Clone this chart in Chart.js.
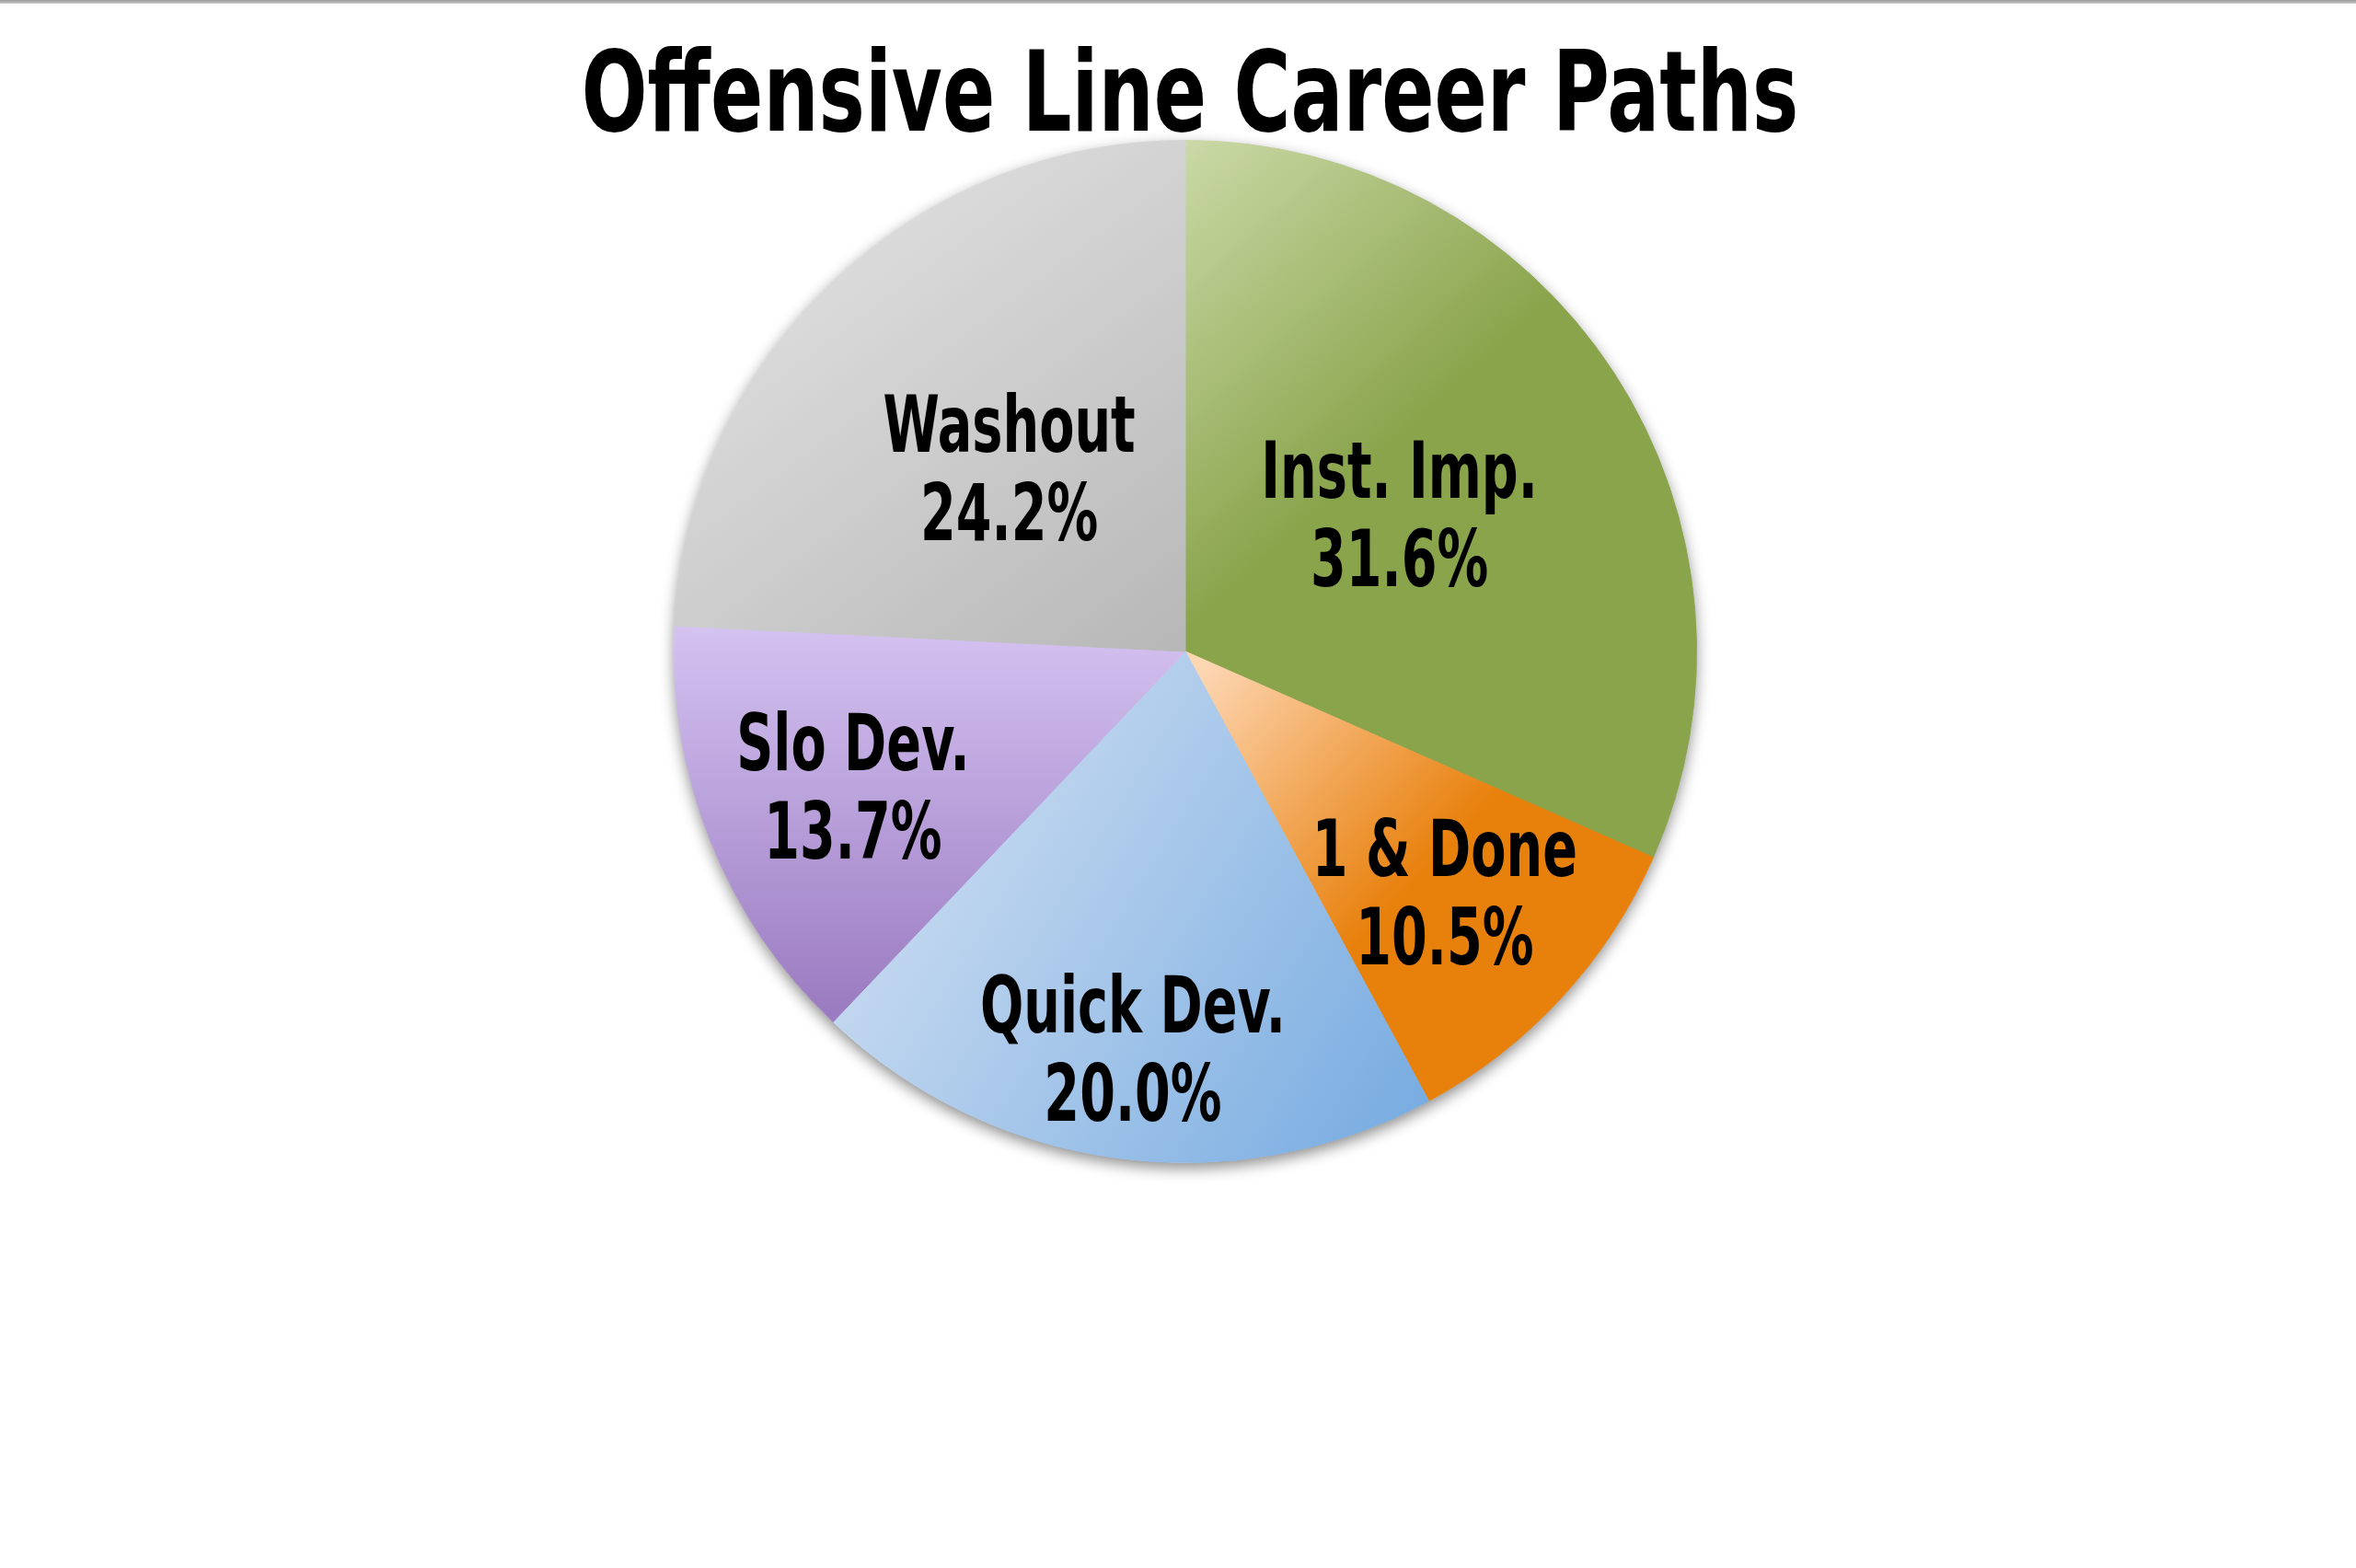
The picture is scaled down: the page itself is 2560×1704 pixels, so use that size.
<!DOCTYPE html>
<html>
<head>
<meta charset="utf-8">
<script src="https://cdn.jsdelivr.net/npm/chart.js@4/dist/chart.umd.min.js"></script>
<style>
  html, body { margin: 0; padding: 0; background: #ffffff; }
  #wrap { position: relative; width: 2560px; height: 1704px; }
  #topbar { position: absolute; left: 0; top: 0; width: 2560px; height: 4px;
            background: linear-gradient(#9c9c9c, #b4b4b4 70%, #dcdcdc); z-index: 2; }
</style>
</head>
<body>
<div id="wrap">
  <div id="topbar"></div>
  <canvas id="c" width="2560" height="1704"></canvas>
</div>
<script>
// ---- data ----
const chartTitle = 'Offensive Line Career Paths';
const categories = ['Inst. Imp.', '1 & Done', 'Quick Dev.', 'Slo Dev.', 'Washout'];
const shares = [31.6, 10.5, 20.0, 13.7, 24.2];

// ---- styles (gradient per slice, in units of radius from centre) ----
const sliceStyles = [
  { x0: -0.05, y0: -1.0, x1: 0.45, y1: -0.45, c0: '#cedcab', c1: '#8aa44c', flat: '#8aa44c' },
  { x0: 0.02, y0: 0.05, x1: 0.45, y1: 0.45, c0: '#fdd6b2', c1: '#e8800c', flat: '#ec8f2c' },
  { x0: -0.5, y0: 0.4, x1: 0.55, y1: 1.05, c0: '#c2d7ef', c1: '#6ea6df', flat: '#9dc0e8' },
  { x0: 0, y0: -0.05, x1: 0, y1: 0.78, c0: '#d4c2f1', c1: '#9574bc', flat: '#b79ddc' },
  { x0: -0.6, y0: -0.8, x1: 0.0, y1: 0.0, c0: '#dadada', c1: '#b7b7b7', flat: '#c8c8c8' }
];
const labelRadiusFrac = [0.50, 0.69, 0.78, 0.70, 0.50];
const FONT_STACK = "'DejaVu Sans Condensed', 'DejaVu Sans', sans-serif";

function sliceFill(ctx) {
  const chart = ctx.chart;
  const area = chart.chartArea;
  const s = sliceStyles[ctx.dataIndex];
  if (!area) return s.flat;
  const cx = (area.left + area.right) / 2;
  const cy = (area.top + area.bottom) / 2;
  const r = Math.min(area.width, area.height) / 2;
  const g = chart.ctx.createLinearGradient(cx + s.x0 * r, cy + s.y0 * r, cx + s.x1 * r, cy + s.y1 * r);
  g.addColorStop(0, s.c0);
  g.addColorStop(1, s.c1);
  return g;
}

function condensedText(c, text, x, y, sx) {
  c.save();
  c.translate(x, y);
  c.scale(sx, 1);
  c.fillText(text, 0, 0);
  c.restore();
}

const shadowPlugin = {
  id: 'pieShadow',
  beforeDatasetsDraw(chart) {
    const meta = chart.getDatasetMeta(0);
    if (!meta.data.length) return;
    const a = meta.data[0];
    const c = chart.ctx;
    c.save();
    c.beginPath();
    c.arc(a.x, a.y, a.outerRadius, 0, Math.PI * 2);
    c.shadowColor = 'rgba(0,0,0,0.45)';
    c.shadowBlur = 16;
    c.shadowOffsetX = 0;
    c.shadowOffsetY = 6;
    c.fillStyle = '#ffffff';
    c.fill();
    c.restore();
  }
};

const titlePlugin = {
  id: 'condensedTitle',
  afterDraw(chart) {
    const c = chart.ctx;
    const area = chart.chartArea;
    c.save();
    c.fillStyle = '#000000';
    c.textAlign = 'center';
    c.textBaseline = 'alphabetic';
    c.font = 'bold 122px ' + FONT_STACK;
    condensedText(c, chartTitle, (area.left + area.right) / 2 + 5, 142, 0.77);
    c.restore();
  }
};

const labelPlugin = {
  id: 'sliceLabels',
  afterDatasetsDraw(chart) {
    const meta = chart.getDatasetMeta(0);
    const c = chart.ctx;
    c.save();
    c.fillStyle = '#000000';
    c.textAlign = 'center';
    c.textBaseline = 'middle';
    c.font = 'bold 86px ' + FONT_STACK;
    meta.data.forEach((arc, i) => {
      const mid = (arc.startAngle + arc.endAngle) / 2;
      const r = arc.outerRadius * labelRadiusFrac[i];
      const x = arc.x + Math.cos(mid) * r;
      const y = arc.y + Math.sin(mid) * r + 10;
      const pct = chart.data.datasets[0].data[i].toFixed(1) + '%';
      condensedText(c, chart.data.labels[i], x, y - 48, 0.72);
      condensedText(c, pct, x, y + 48, 0.72);
    });
    c.restore();
  }
};

new Chart(document.getElementById('c'), {
  type: 'pie',
  data: {
    labels: categories,
    datasets: [{
      data: shares,
      backgroundColor: sliceFill,
      borderColor: sliceFill,
      borderWidth: 1
    }]
  },
  options: {
    responsive: false,
    animation: false,
    events: [],
    layout: { padding: { left: 16, right: 0, top: 152, bottom: 440 } },
    plugins: {
      legend: { display: false },
      tooltip: { enabled: false },
      title: { display: false }
    }
  },
  plugins: [shadowPlugin, labelPlugin, titlePlugin]
});
</script>
</body>
</html>
